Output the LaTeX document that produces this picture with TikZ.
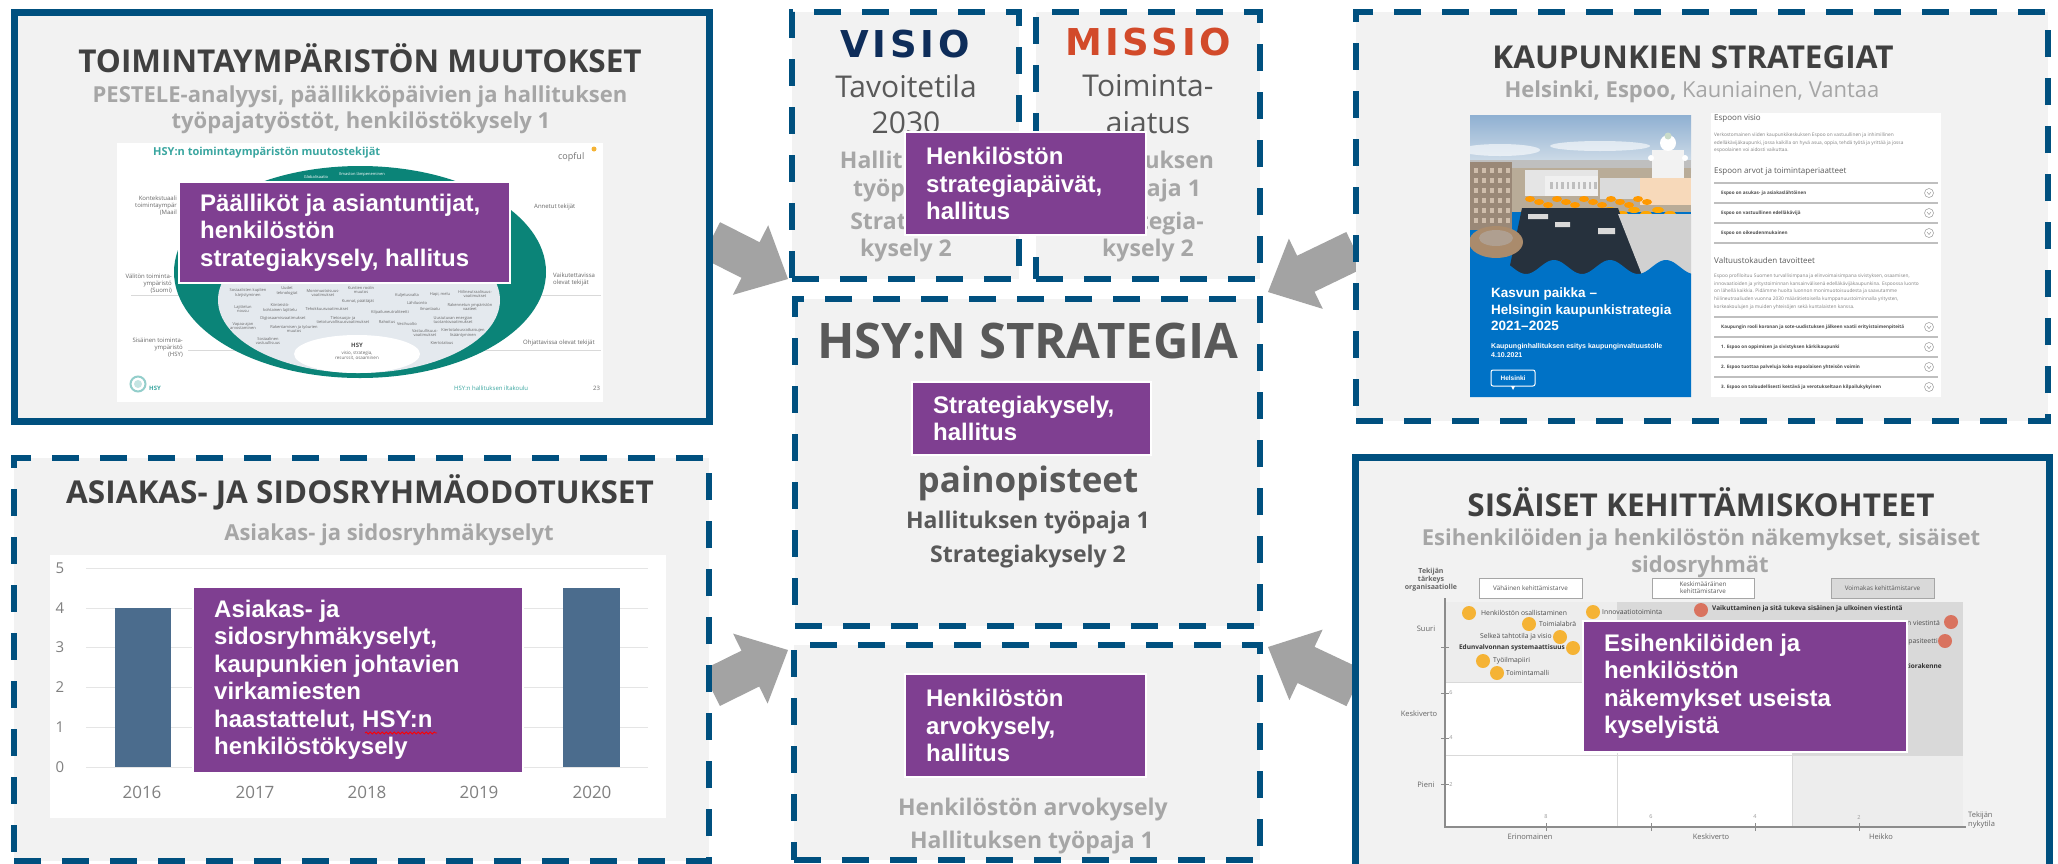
\documentclass[tikz,border=0pt]{standalone}
\usepackage{fontspec}
\setmainfont{Open Sans}
\newfontfamily\arialf{Liberation Sans}
\newfontfamily\verdf[LetterSpace=10]{DejaVu Sans}
\usetikzlibrary{calc,decorations.pathmorphing}
\definecolor{bblue}{HTML}{00507F}
\definecolor{boxbg}{HTML}{F2F2F2}
\definecolor{purp}{HTML}{7F3F91}
\definecolor{agray}{HTML}{A3A3A3}
\definecolor{tdark}{HTML}{404040}
\definecolor{tmid}{HTML}{595959}
\definecolor{tlight}{HTML}{A6A6A6}
\definecolor{navy}{HTML}{0E2D5A}
\definecolor{orred}{HTML}{D24A2A}
\definecolor{teal}{HTML}{0B8478}
\definecolor{tealt}{HTML}{3AA6A0}
\definecolor{ellin}{HTML}{E4E9EE}
\definecolor{barblue}{HTML}{4B6C8D}
\definecolor{dotor}{HTML}{F5B335}
\definecolor{dotred}{HTML}{D9735F}
\definecolor{cgray}{HTML}{D9D9D9}
\definecolor{clight}{HTML}{EDEDED}
\definecolor{hblue}{HTML}{0072C6}
\definecolor{skytop}{HTML}{8FB0D2}
\definecolor{skybot}{HTML}{DCE5EC}
\definecolor{water}{HTML}{26313D}
\definecolor{facade}{HTML}{B9AC98}
\newcommand\blockarrow[2]{%
  \coordinate (ba) at ($(#2)!42pt!(#1)$);
  \fill[agray] ($(#1)!20pt!90:(#2)$) -- ($(ba)!20pt!90:(#2)$) -- ($(ba)!39pt!90:(#2)$) -- (#2)
    -- ($(ba)!39pt!-90:(#2)$) -- ($(ba)!20pt!-90:(#2)$) -- ($(#1)!20pt!-90:(#2)$) -- cycle;}
\newcommand\pbox[6]{%
  \node[pboxst, minimum width={#4-#2}, minimum height={#5-#3}] (#1) at ({(#2+#4)/2},{(#3+#5)/2}) {};
  \node[ptext] (#1t) at ([xshift=21pt]#1.west) {#6};}
\tikzset{
  dashbox/.style={draw=bblue, line width=6pt, dash pattern=on 27pt off 21pt, fill=boxbg, inner sep=0pt, outer sep=0pt},
  solidbox/.style={draw=bblue, line width=7pt, fill=boxbg, inner sep=0pt, outer sep=0pt},
  pboxst/.style={fill=purp, draw=white, line width=1.5pt, inner sep=0pt, outer sep=0pt},
  ptext/.style={font=\arialf\bfseries\fontsize{24}{27.5}\selectfont, text=white, align=left, inner sep=0pt, anchor=west},
  btitle/.style={font=\bfseries\fontsize{31.5}{36}\selectfont, text=tdark, anchor=base, inner sep=0pt},
  bsub/.style={font=\bfseries\fontsize{22}{26}\selectfont, text=tlight, anchor=base, inner sep=0pt},
  gsub/.style={font=\bfseries\fontsize{23}{27}\selectfont, text=tlight, anchor=base, inner sep=0pt},
  msub/.style={font=\bfseries\fontsize{23}{27}\selectfont, text=tmid, anchor=base, inner sep=0pt},
  big/.style={font=\fontsize{30}{34}\selectfont, text=tmid, anchor=base, inner sep=0pt},
  tiny/.style={font=\fontsize{6}{7}\selectfont, text=black!60, inner sep=0pt, align=center},
  etx/.style={font=\fontsize{4}{4.6}\selectfont, text=black!60, inner sep=0pt, align=center},
  chl/.style={font=\fontsize{6.8}{8}\selectfont, text=black!70, inner sep=0pt},
  chb/.style={font=\bfseries\fontsize{6.5}{8}\selectfont, text=black!80, inner sep=0pt},
  axl/.style={font=\fontsize{7.5}{9}\selectfont, text=black!60, inner sep=0pt, align=center},
  eh/.style={font=\fontsize{8}{9}\selectfont, text=tmid, anchor=west, inner sep=0pt},
  ep/.style={font=\fontsize{4.8}{6}\selectfont, text=black!50, anchor=west, inner sep=0pt},
  ei/.style={font=\bfseries\fontsize{4.6}{6}\selectfont, text=black!70, anchor=west, inner sep=0pt},
  eline/.style={draw=black!25, line width=1.2pt},
  chev/.style={draw=black!40, line width=0.5pt},
  cov/.style={font=\arialf\bfseries\fontsize{13.5}{16}\selectfont, text=white, anchor=base west, inner sep=0pt},
}
\begin{document}
\begin{tikzpicture}[x=1pt,y=-1pt]
\useasboundingbox (0,0) rectangle (2058,863);
\fill[white] (0,0) rectangle (2058,863);
\clip (0,0) rectangle (2058,863);

% ---------- arrows ----------
\coordinate (a1t) at (711,240); \coordinate (a1h) at (788,279);
\coordinate (a2t) at (711,688); \coordinate (a2h) at (788,650);
\coordinate (a3t) at (1355,250); \coordinate (a3h) at (1268,292);
\coordinate (a4t) at (1355,688); \coordinate (a4h) at (1268,647);
\blockarrow{a1t}{a1h}
\blockarrow{a2t}{a2h}
\blockarrow{a3t}{a3h}
\blockarrow{a4t}{a4h}

% ---------- boxes ----------
\node[solidbox, minimum width=695pt, minimum height=409pt] (tl) at (361.5,216.5) {};
\node[dashbox, minimum width=227pt, minimum height=267pt] (visio) at (905.5,145.5) {};
\node[dashbox, minimum width=224pt, minimum height=267pt] (missio) at (1148,145.5) {};
\node[dashbox, minimum width=465pt, minimum height=327pt] (hsy) at (1027.5,462.5) {};
\node[dashbox, minimum width=466pt, minimum height=215pt] (bot) at (1027,752.5) {};
\node[dashbox, minimum width=692pt, minimum height=409pt] (tr) at (1702,216.5) {};
\node[dashbox, minimum width=695pt, minimum height=403pt] (bl) at (361.5,659.5) {};
\node[solidbox, minimum width=694pt, minimum height=423pt] (br) at (1702,668.5) {};

% ---------- top left ----------
\node[btitle] (tlT) at (360,72) {TOIMINTAYMPÄRISTÖN MUUTOKSET};
\node[bsub] (tlS1) at (360,102) {PESTELE-analyysi, päällikköpäivien ja hallituksen};
\node[bsub] (tlS2) at (361,128) {työpajatyöstöt, henkilöstökysely 1};
\node[fill=white, minimum width=486pt, minimum height=259pt, inner sep=0pt] (slide1) at (360,272.5) {};
\node[font=\bfseries\fontsize{11}{12}\selectfont, text=tealt, anchor=west, inner sep=0pt] (s1title) at (153,153) {HSY:n toimintaympäristön muutostekijät};
\node[font=\fontsize{9}{10}\selectfont, text=black!55, anchor=west, inner sep=0pt] (s1cop) at (558,157) {copful};
\fill[dotor] (594,149) circle[radius=2.5pt];
\draw[black!15, line width=0.6pt] (131,295) -- (601,295) (188,350) -- (601,350);
\fill[teal] (360,272) ellipse[x radius=186pt, y radius=106pt];
\fill[ellin] (359,300) ellipse[x radius=141pt, y radius=73pt];
\fill[white] (357,354) ellipse[x radius=63pt, y radius=19pt];
\node[etx, text=white] (g1) at (316,177) {Globalisaatio};
\node[etx, text=white] (g2) at (362,174) {Ilmaston lämpeneminen};
\node[etx] at (248,293) {Sosiaalisten kuplien\\kärjistyminen};
\node[etx] at (287,291) {Uudet\\teknologiat};
\node[etx] at (323,293) {Monimuotoisuus-\\vaatimukset};
\node[etx] at (361,290) {Kuntien roolin\\muutos};
\node[etx] at (407,295) {Kuljetusvalta};
\node[etx] at (440,294) {Hapi, melu};
\node[etx] at (475,294) {Hiilineutraalisuus-\\vaatimukset};
\node[etx] at (243,309) {Lajittelun\\nousu};
\node[etx] at (280,308) {Kiinteistö-\\kohtainen lajittelu};
\node[etx] at (327,309) {Tehokkuusvaatimukset};
\node[etx] at (358,302) {Kunnat, päättäjät};
\node[etx] at (417,303) {Lähiluonto};
\node[etx] at (430,309) {Ilmanlaatu};
\node[etx] at (390,312) {Kilpailuneutraliteetti};
\node[etx] at (470,307) {Rakennetun ympäristön\\vaateet};
\node[etx] at (283,318) {Digiosaamisvaatimukset};
\node[etx] at (343,320) {Tietosuoja- ja\\tietoturvallisuusvaatimukset};
\node[etx] at (387,322) {Rahoitus};
\node[etx] at (407,324) {Vesihuolto};
\node[etx] at (453,320) {Uusiutuvan energian\\tuotantovaatimukset};
\node[etx] at (243,326) {Vapaa-ajan\\arvostaminen};
\node[etx] at (294,329) {Rakentamisen ja työurien\\muutos};
\node[etx] at (425,333) {Vastuullisuus-\\vaatimukset};
\node[etx] at (463,333) {Kiertotalousratkaisujen\\lisääntyminen};
\node[etx] at (268,341) {Sosiaalinen\\vastuullisuus};
\node[etx] at (442,343) {Kiertotalous};
\node[font=\bfseries\fontsize{6}{7}\selectfont, text=black!70, inner sep=0pt] (hsyin) at (357,345) {HSY};
\node[etx, font=\fontsize{4.5}{5.5}\selectfont] (hsyin2) at (357,355.5) {visio, strategia,\\resurssit, osaaminen};
\node[tiny, anchor=east, align=right] (lk) at (177,206) {Kontekstuaali\\toimintaympär\\(Maail};
\node[tiny, anchor=east, align=right] (lv) at (172,284) {Välitön toiminta-\\ympäristö\\(Suomi)};
\node[tiny, anchor=east, align=right] (ls) at (183,348) {Sisäinen toiminta-\\ympäristö\\(HSY)};
\node[tiny, anchor=west] (ra) at (534,207) {Annetut tekijät};
\node[tiny, anchor=west, align=left] (rv) at (553,279.5) {Vaikutettavissa\\olevat tekijät};
\node[tiny, anchor=west] (ro) at (523,343) {Ohjattavissa olevat tekijät};
\draw[tealt!55, line width=2pt] (138,384) circle[radius=7.5pt];
\fill[tealt!30] (138,384) circle[radius=4pt];
\node[font=\bfseries\fontsize{6}{7}\selectfont, text=tealt, anchor=west, inner sep=0pt] (hsylogo) at (149,388) {HSY};
\node[tiny, text=tealt, anchor=west] (iltak) at (454,388) {HSY:n hallituksen iltakoulu};
\node[tiny, anchor=west] (pg) at (593,388) {23};
\pbox{p1}{179}{182}{510}{283}{Päälliköt ja asiantuntijat,\\henkilöstön\\strategiakysely, hallitus}

% ---------- visio / missio ----------
\node[font=\verdf\bfseries\fontsize{37}{40}\selectfont, text=navy, anchor=base, inner sep=0pt] (visioT) at (905,57) {VISIO};
\node[big] (tav) at (906,97) {Tavoitetila};
\node[big] (y2030) at (906,133) {2030};
\node[gsub] (v1) at (906,168) {Hallituksen};
\node[gsub] (v2) at (906,196) {työpaja 1};
\node[gsub] (v3) at (906,229) {Strategia-};
\node[gsub] (v4) at (906,256) {kysely 2};
\node[font=\verdf\bfseries\fontsize{37}{40}\selectfont, text=orred, anchor=base, inner sep=0pt] (missioT) at (1148,55) {MISSIO};
\node[big] (toim) at (1148,96) {Toiminta-};
\node[big] (ajat) at (1148,133) {ajatus};
\node[gsub] (m1) at (1148,168) {Hallituksen};
\node[gsub] (m2) at (1148,196) {työpaja 1};
\node[gsub] (m3) at (1148,229) {Strategia-};
\node[gsub] (m4) at (1148,256) {kysely 2};
\pbox{p2}{905}{132}{1146}{235}{Henkilöstön\\strategiapäivät,\\hallitus}

% ---------- HSY strategia ----------
\node[font=\bfseries\fontsize{49}{54}\selectfont, text=tmid, anchor=base, inner sep=0pt] (hsyT) at (1028,358) {HSY:N STRATEGIA};
\node[font=\bfseries\fontsize{35}{40}\selectfont, text=tmid, anchor=base, inner sep=0pt] (paino) at (1028,492) {painopisteet};
\node[msub] (h1) at (1028,528) {Hallituksen työpaja 1};
\node[msub] (h2) at (1028,562) {Strategiakysely 2};
\pbox{p3}{912}{382}{1151}{455}{Strategiakysely,\\hallitus}

% ---------- bottom centre ----------
\node[gsub] (b1) at (1033,815) {Henkilöstön arvokysely};
\node[gsub] (b2) at (1032,848) {Hallituksen työpaja 1};
\pbox{p4}{905}{674}{1146}{777}{Henkilöstön\\arvokysely,\\hallitus}

% ---------- top right ----------
\node[btitle] (trT) at (1693,68) {KAUPUNKIEN STRATEGIAT};
\node[bsub] (trS) at (1692,97) {Helsinki, Espoo, \mdseries Kauniainen, Vantaa};
\node[fill=hblue, minimum width=221pt, minimum height=282pt, inner sep=0pt] (cover) at (1580.5,256) {};
\begin{scope}
\clip (1470,115) rectangle (1691,397);
\shade[top color=skytop, bottom color=skybot] (1470,115) rectangle (1691,172);
\fill[white, opacity=0.6] (1500,150) ellipse[x radius=40pt, y radius=6pt] (1600,146) ellipse[x radius=50pt, y radius=5pt];
\fill[black!25!white] (1470,160) rectangle (1691,172);
\fill[facade] (1470,168) rectangle (1691,212);
\fill[black!55!brown!60] (1470,162) rectangle (1512,230);
\foreach \r in {0,...,5} {\foreach \c in {0,...,4} {\fill[black!30!brown!40] ({1474+\c*8},{168+\r*10}) rectangle ++(4pt,-5pt);}}
\fill[black!10] (1525,170) rectangle (1598,196);
\fill[black!6] (1545,176) rectangle (1598,196);
\foreach \c in {0,...,8} {\fill[black!25] ({1550+\c*5.5},182) rectangle ++(2.5pt,-7pt);}
\fill[black!14] (1600,178) rectangle (1640,199);
\fill[black!5] (1652,150) rectangle (1684,180);
\fill[white] (1668,143) circle[radius=8pt];
\fill[green!20!gray!35] (1668,136) circle[radius=3.5pt];
\fill[white] (1651,158) circle[radius=3pt] (1685,158) circle[radius=3pt];
\fill[brown!40!orange!30!white] (1640,178) rectangle (1691,205);
\foreach \i in {0,...,13} {\fill[orange!80!yellow] ({1530+\i*9},{199+mod(\i,3)*3}) ellipse[x radius=5pt, y radius=3pt];}
\foreach \i in {0,...,5} {\fill[orange!70!yellow] ({1610+\i*12},{210+mod(\i,2)*4}) ellipse[x radius=6pt, y radius=3pt];}
\fill[water] (1522,208) -- (1618,208) -- (1642,275) -- (1508,275) -- cycle;
\fill[white!70!gray] (1528,214) rectangle (1548,219) (1555,222) rectangle (1570,227) (1598,228) rectangle (1615,234);
\fill[black!18] (1618,214) -- (1691,214) -- (1691,275) -- (1642,275) -- cycle;
\fill[black!30!brown!70] (1496,242) ellipse[x radius=27pt, y radius=16pt];
\fill[black!50!brown!50] (1496,238) ellipse[x radius=17pt, y radius=8pt];
\fill[hblue] plot[domain=0:221, samples=90] ({1470+\x},{267+7*cos(\x/56*360)}) -- (1691,397) -- (1470,397) -- cycle;
\end{scope}
\node[cov] (c1) at (1491,297) {Kasvun paikka –};
\node[cov] (c2) at (1491,314) {Helsingin kaupunkistrategia};
\node[cov] (c3) at (1491,330) {2021–2025};
\node[font=\arialf\bfseries\fontsize{7}{8}\selectfont, text=white, anchor=base west, inner sep=0pt] (c4) at (1491,348) {Kaupunginhallituksen esitys kaupunginvaltuustolle};
\node[font=\arialf\bfseries\fontsize{7}{8}\selectfont, text=white, anchor=base west, inner sep=0pt] (c5) at (1491,357) {4.10.2021};
\draw[white, line width=1pt, rounded corners=2pt] (1491,370) rectangle (1535,386);
\fill[white] (1511,386) -- (1513,390) -- (1515,386) -- cycle;
\node[font=\arialf\bfseries\fontsize{6.5}{7}\selectfont, text=white, inner sep=0pt] (hki) at (1513,378) {Helsinki};
\node[fill=white, minimum width=230pt, minimum height=284pt, inner sep=0pt] (espoo) at (1826,255) {};
\node[eh] (e1) at (1714,119) {Espoon visio};
\node[ep] at (1714,135) {Verkostomainen viiden kaupunkikeskuksen Espoo on vastuullinen ja inhimillinen};
\node[ep] at (1714,143) {edelläkävijäkaupunki, jossa kaikilla on hyvä asua, oppia, tehdä työtä ja yrittää ja jossa};
\node[ep] at (1714,150) {espoolainen voi aidosti vaikuttaa.};
\node[eh] (e2) at (1714,172) {Espoon arvot ja toimintaperiaatteet};
\draw[eline] (1714,183) -- (1938,183) (1714,203) -- (1938,203) (1714,223) -- (1938,223) (1714,243) -- (1938,243);
\node[ei] at (1721,193) {Espoo on asukas- ja asiakaslähtöinen};
\node[ei] at (1721,213) {Espoo on vastuullinen edelläkävijä};
\node[ei] at (1721,233) {Espoo on oikeudenmukainen};
\node[eh] (e3) at (1714,260) {Valtuustokauden tavoitteet};
\node[ep] at (1714,276) {Espoo profiloituu Suomen turvallisimpana ja elinvoimaisimpana sivistyksen, osaamisen,};
\node[ep] at (1714,284) {innovaatioiden ja yritystoiminnan kansainvälisenä edelläkävijäkaupunkina. Espoossa luonto};
\node[ep] at (1714,291) {on lähellä kaikkia. Pidämme huolta luonnon monimuotoisuudesta ja saavutamme};
\node[ep] at (1714,299) {hiilineutraaliuden vuonna 2030 määrätietoisella kumppanuustoiminnalla yritysten,};
\node[ep] at (1714,307) {korkeakoulujen ja muiden yhteisöjen sekä kuntalaisten kanssa.};
\draw[eline] (1714,317) -- (1938,317) (1714,337) -- (1938,337) (1714,357) -- (1938,357) (1714,377) -- (1938,377);
\node[ei] at (1721,327) {Kaupungin rooli koronan ja sote-uudistuksen jälkeen vaatii erityistoimenpiteitä};
\node[ei] at (1721,347) {1. Espoo on oppimisen ja sivistyksen kärkikaupunki};
\node[ei] at (1721,367) {2. Espoo tuottaa palveluja koko espoolaisen yhteisön voimin};
\node[ei] at (1721,387) {3. Espoo on taloudellisesti kestävä ja verotukseltaan kilpailukykyinen};
\foreach \yy in {193,213,233,327,347,367,387} {
  \draw[chev] (1929,\yy) circle[radius=4.5pt];
  \draw[chev] (1927,{\yy-1}) -- (1929,{\yy+1.5}) -- (1931,{\yy-1});}

% ---------- bottom left ----------
\node[btitle] (blT) at (360,503) {ASIAKAS- JA SIDOSRYHMÄODOTUKSET};
\node[bsub] (blS) at (389,540) {Asiakas- ja sidosryhmäkyselyt};
\node[fill=white, minimum width=616pt, minimum height=263pt, inner sep=0pt] (chart1) at (358,686.5) {};
\foreach \v/\yy in {5/568,4/608,3/647,2/687,1/727,0/767} {
  \draw[black!10, line width=1pt] (86,\yy) -- (648,\yy);
  \node[font=\fontsize{15}{16}\selectfont, text=black!50, inner sep=0pt] at (60,\yy) {\v};}
\fill[barblue] (115,608) rectangle (171,767);
\fill[barblue] (563,588) rectangle (620,767);
\foreach \yr/\xx in {2016/142,2017/255,2018/367,2019/479,2020/592} {
  \node[font=\fontsize{17}{18}\selectfont, text=black!50, anchor=base, inner sep=0pt] at (\xx,798) {\yr};}
\pbox{p5}{193}{587}{523}{773}{Asiakas- ja\\sidosryhmäkyselyt,\\kaupunkien johtavien\\virkamiesten\\haastattelut, HSY:n\\henkilöstökysely}
\draw[red, line width=0.8pt, decorate, decoration={snake, amplitude=1pt, segment length=4pt}] (365,733) -- (437,733);

% ---------- bottom right ----------
\node[btitle] (brT) at (1701,516) {SISÄISET KEHITTÄMISKOHTEET};
\node[bsub] (brS1) at (1701,545) {Esihenkilöiden ja henkilöstön näkemykset, sisäiset};
\node[bsub] (brS2) at (1700,572) {sidosryhmät};
\fill[clight] (1445,602) rectangle (1617,682);
\fill[cgray] (1617,602) rectangle (1963,682);
\fill[white] (1445,682) rectangle (1792,755);
\fill[cgray] (1792,682) rectangle (1963,755);
\fill[white] (1445,755) rectangle (1792,827);
\fill[clight] (1792,755) rectangle (1963,827);
\draw[black!15, line width=0.8pt] (1617,602) -- (1617,827) (1792,602) -- (1792,827) (1445,682) -- (1963,682) (1445,755) -- (1963,755);
\draw[black!45, line width=1.2pt] (1445,598) -- (1445,827) -- (1966,827);
\foreach \xx in {1546,1651,1755,1859} {\draw[black!45, line width=1pt] (\xx,823) -- (\xx,831);}
\foreach \yy in {647,693,738,784} {\draw[black!45, line width=1pt] (1441,\yy) -- (1449,\yy);}
\node[font=\fontsize{5.5}{6}\selectfont, text=black!40, inner sep=0pt] at (1546,817) {8};
\node[font=\fontsize{5.5}{6}\selectfont, text=black!40, inner sep=0pt] at (1651,817) {6};
\node[font=\fontsize{5.5}{6}\selectfont, text=black!40, inner sep=0pt] at (1755,817) {4};
\node[font=\fontsize{5.5}{6}\selectfont, text=black!40, inner sep=0pt] at (1859,817) {2};
\node[font=\fontsize{5.5}{6}\selectfont, text=black!40, inner sep=0pt] at (1451,693) {6};
\node[font=\fontsize{5.5}{6}\selectfont, text=black!40, inner sep=0pt] at (1451,738) {4};
\node[font=\fontsize{5.5}{6}\selectfont, text=black!40, inner sep=0pt] at (1451,784) {2};
\node[axl, font=\bfseries\fontsize{7}{8}\selectfont] (tk) at (1431,580) {Tekijän\\tärkeys\\organisaatiolle};
\node[axl] (ysu) at (1426,629) {Suuri};
\node[axl] (yke) at (1419,714) {Keskiverto};
\node[axl] (ypi) at (1426,785) {Pieni};
\node[axl] (xer) at (1530,837) {Erinomainen};
\node[axl] (xke) at (1711,837) {Keskiverto};
\node[axl] (xhe) at (1881,837) {Heikko};
\node[axl, anchor=west, align=left] (nyk) at (1968,820.5) {Tekijän\\nykytila};
\node[draw=black!35, fill=white, minimum width=103pt, minimum height=20pt, inner sep=0pt, font=\fontsize{6.3}{7}\selectfont, text=black!65] (lg1) at (1530.5,588) {Vähäinen kehittämistarve};
\node[draw=black!35, fill=white, minimum width=102pt, minimum height=20pt, inner sep=0pt, font=\fontsize{6.3}{7}\selectfont, text=black!65, align=center] (lg2) at (1703,588) {Keskimääräinen\\kehittämistarve};
\node[draw=black!35, fill=cgray, minimum width=103pt, minimum height=20pt, inner sep=0pt, font=\fontsize{6.3}{7}\selectfont, text=black!65] (lg3) at (1882.5,588) {Voimakas kehittämistarve};
\foreach \xx/\yy in {1469/613,1593/612,1529/624,1560/637,1573/648,1483/661,1497/673} {\fill[dotor] (\xx,\yy) circle[radius=7pt];}
\foreach \xx/\yy in {1701/610,1951/622,1945/641} {\fill[dotred] (\xx,\yy) circle[radius=7pt];}
\node[chl, anchor=west] at (1481,613) {Henkilöstön osallistaminen};
\node[chl, anchor=west] at (1602,612) {Innovaatiotoiminta};
\node[chl, anchor=west] at (1539,624) {Toimialabrä};
\node[chl, anchor=east] at (1552,637) {Selkeä tahtotila ja visio};
\node[chb, anchor=east] at (1565,648) {Edunvalvonnan systemaattisuus};
\node[chl, anchor=west] at (1493,661) {Työilmapiiri};
\node[chl, anchor=west] at (1506,673) {Toimintamalli};
\node[chb, anchor=west] at (1712,609) {Vaikuttaminen ja sitä tukeva sisäinen ja ulkoinen viestintä};
\node[chl, anchor=east] at (1940,623) {Sisäinen viestintä};
\node[chl, anchor=east] at (1938,642) {Kapasiteetti};
\node[chb, anchor=east] at (1942,667) {Organisaatiorakenne};
\pbox{p6}{1583}{621}{1907}{752}{Esihenkilöiden ja\\henkilöstön\\näkemykset useista\\kyselyistä}
\end{tikzpicture}
\end{document}
